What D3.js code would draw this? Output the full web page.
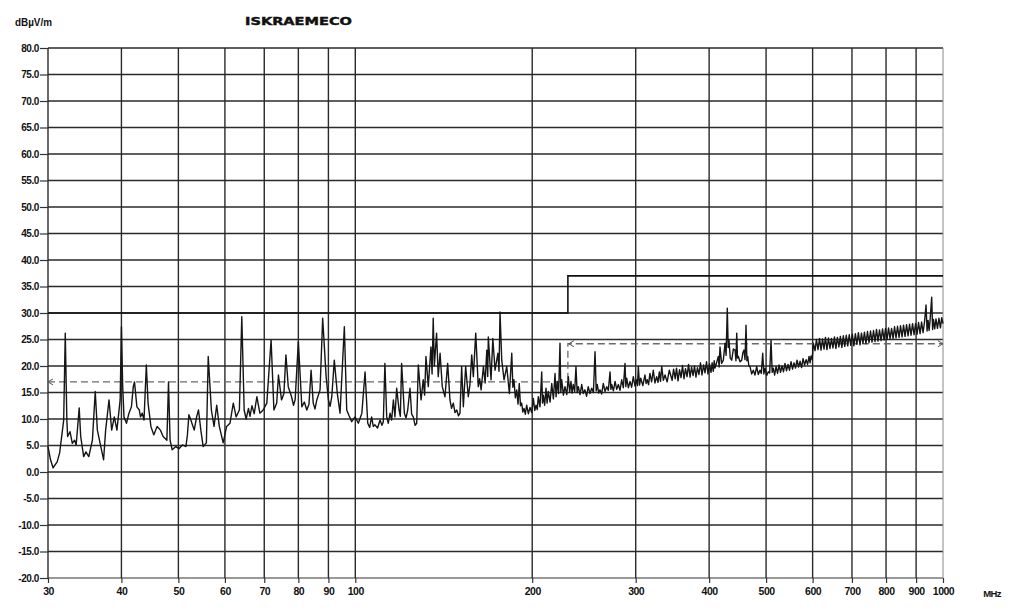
<!DOCTYPE html>
<html>
<head>
<meta charset="utf-8">
<script src="https://cdn.jsdelivr.net/npm/d3@7"></script>
<style>
body { margin: 0; background: #fff; }
svg text { font-family: "Liberation Sans", Arial, sans-serif; fill: #111; }
</style>
</head>
<body>
<svg id="chart" width="1024" height="615"></svg>
<script>
// tick labels
const yTicks = [80, 75, 70, 65, 60, 55, 50, 45, 40, 35, 30, 25, 20, 15, 10, 5, 0, -5, -10, -15, -20];
const xTicks = [30, 40, 50, 60, 70, 80, 90, 100, 200, 300, 400, 500, 600, 700, 800, 900, 1000];

// limit line (dBuV/m) and dashed reference line
const limitFreq = [30, 230, 230, 1000];
const limitLevel = [30, 30, 37, 37];
const refLowFreq = [30, 230];
const refLowLevel = [17, 17];
const refHighFreq = [230, 230, 1000];
const refHighLevel = [17.4, 24.2, 24.2];

const trace = [
  [30.0,4.8],[30.3,2.3],[30.6,0.8],[31.1,1.9],[31.4,3.6],[31.7,7.3],[31.9,9.8],[32.1,26.2],[32.3,9.8],[32.4,6.7],
  [32.7,7.6],[33.0,5.4],[33.3,6.0],[33.5,5.1],[33.9,12.1],[34.1,6.7],[34.5,2.9],[34.8,3.8],[35.2,2.9],[35.7,6.0],
  [36.1,15.2],[36.4,7.9],[36.9,4.8],[37.3,2.3],[37.6,7.9],[38.1,13.6],[38.5,7.9],[38.9,10.4],[39.3,7.9],[39.8,13.6],
  [40.0,27.4],[40.2,16.1],[40.4,10.4],[40.8,9.2],[41.2,11.1],[41.6,12.3],[41.9,16.1],[42.1,17.0],[42.5,12.3],[42.9,11.7],
  [43.1,10.4],[43.4,11.1],[43.7,9.8],[44.1,20.2],[44.4,13.0],[44.9,8.6],[45.4,7.0],[46.0,8.6],[46.6,7.9],[47.1,6.7],
  [47.8,6.0],[48.1,17.0],[48.4,6.0],[48.8,4.2],[49.5,4.8],[50.1,4.4],[50.8,5.1],[51.5,4.8],[51.8,7.0],[52.1,10.8],
  [52.5,9.8],[53.2,7.9],[53.7,10.4],[54.1,11.7],[54.6,7.9],[55.1,4.8],[55.8,5.5],[56.2,21.8],[56.9,11.7],[57.5,8.6],
  [58.1,12.6],[58.7,8.6],[59.6,5.5],[60.4,8.6],[61.2,9.2],[62.0,13.0],[62.7,10.4],[63.5,11.7],[64.1,29.3],[64.7,11.7],
  [65.2,10.0],[65.8,12.0],[66.2,10.5],[66.7,12.5],[67.3,11.0],[68.0,14.2],[68.8,11.1],[69.7,11.7],[70.7,13.0],[71.9,24.9],
  [72.7,11.7],[73.5,13.0],[74.0,18.3],[74.9,13.6],[75.6,14.8],[76.2,22.1],[76.9,16.1],[77.9,14.2],[78.5,12.6],[79.0,13.6],
  [80.0,24.6],[81.1,12.3],[81.9,13.2],[82.7,11.7],[83.4,12.8],[84.1,19.2],[84.8,13.0],[85.4,11.9],[86.0,13.6],[87.1,15.5],
  [88.0,29.0],[89.2,18.0],[90.0,13.6],[90.6,12.4],[91.2,14.2],[92.1,21.1],[93.2,14.8],[94.2,11.1],[95.8,27.4],[96.7,11.7],
  [97.6,10.6],[98.6,9.5],[99.9,10.4],
  [101.2,9.2],[102.6,11.1],[103.9,18.9],[105.0,9.2],[105.8,8.4],[106.6,10.4],[107.3,8.6],[108.0,8.9],[109.1,8.3],[110.2,9.8],
  [111.0,8.8],[111.6,9.5],[112.3,20.5],[113.1,10.4],[113.8,9.2],[114.6,11.1],[115.3,9.8],[116.1,13.6],[116.8,10.4],[117.6,15.8],
  [118.7,11.7],[119.3,10.5],[119.9,20.5],[121.2,11.1],[122.0,10.2],[122.8,11.7],[123.9,15.8],[124.7,10.9],[125.5,10.4],[126.4,8.8],
  [127.2,9.2],[128.0,20.2],[129.4,13.6],[130.5,17.4],[131.2,14.5],[131.9,21.8],[133.1,16.1],[134.5,23.6],[135.1,18.5],[135.7,29.0],
  [136.3,20.0],[137.5,26.2],[138.4,18.0],[139.4,22.4],[140.6,16.1],[142.1,14.2],[143.6,20.5],[144.9,13.6],[145.8,12.0],[146.8,13.0],
  [147.8,11.2],[148.8,11.7],[149.8,10.6],[150.7,11.1],[151.7,19.9],[152.7,12.3],[154.1,19.9],[155.7,14.2],[156.7,16.5],[157.8,22.1],
  [158.8,18.0],[160.3,26.2],[161.9,16.1],[162.8,17.6],[163.7,15.5],[165.2,19.9],[166.3,16.8],[167.4,23.0],[168.0,18.0],[168.4,25.5],
  [170.2,17.4],[171.4,25.2],[172.9,19.2],[174.8,22.4],[175.6,19.0],[176.3,30.2],[177.5,21.1],[179.1,17.4],[181.0,19.9],[182.9,14.8],
  [184.6,22.4],[185.4,16.0],
  [186.2,17.4],[187.2,14.0],[188.2,15.5],[189.2,12.8],[190.1,16.7],[191.0,12.5],[191.9,13.0],[192.8,11.3],[193.7,12.0],[194.7,10.9],
  [195.7,12.6],[197.0,11.0],[198.3,12.2],[199.6,11.2],[200.9,13.9],[202.0,11.6],[203.0,12.6],[204.0,11.8],[204.8,14.2],[206.2,12.3],
  [207.6,18.9],[208.2,13.0],[208.9,14.5],[210.0,12.6],[211.1,15.8],[212.0,13.0],[213.0,15.2],[214.5,13.2],[215.9,16.7],[217.3,13.8],
  [218.7,18.6],[219.6,14.2],[220.6,17.1],[221.8,14.8],[223.0,24.3],[223.7,15.0],[224.5,17.4],[226.0,14.5],[227.4,16.1],[229.0,14.6],
  [230.4,18.0],[231.6,15.0],[232.8,17.1],[233.8,14.9],[234.9,16.5],[236.2,15.2],[237.4,19.9],[238.5,15.0],[239.6,16.1],[241.2,14.6],
  [242.8,16.5],[244.3,14.8],[245.9,15.5],[247.5,14.3],[249.1,16.1],[250.8,14.8],[252.5,15.8],[254.2,15.0],[255.8,22.7],[257.0,15.3],
  [258.1,16.5],[259.5,14.9],[260.8,15.5],[262.5,14.7],[264.2,16.7],[266.0,15.2],[267.8,16.1],[269.5,15.4],[271.3,18.9],[272.2,15.6],
  [273.1,16.5],[274.9,15.3],[276.7,17.1],[278.5,15.6],[280.3,16.5],[282.1,15.4],[284.0,17.4],[285.8,15.9],[287.7,20.5],[288.6,16.1],
  [289.6,17.7],[291.5,15.9],[293.4,17.1],[295.3,16.0],[297.2,18.0],[299.2,16.2],[301.2,17.4],[302.1,16.3],[303.1,19.9],[304.5,16.4],
  [306.0,17.7],[308.5,16.3],[311.1,18.3],[312.5,16.7],[313.9,17.4],[315.5,16.5],[317.2,18.6],[319.3,17.0],[321.4,19.2],[323.5,16.8],
  [325.7,18.0],[327.4,16.9],[329.1,18.9],[330.6,17.1],[332.2,19.9],[334.3,17.3],[336.5,18.3],[339.3,17.0],[342.2,19.2],
  [346.0,17.3],[348.0,19.4],[350.2,17.6],[352.0,19.6],[354.1,17.2],[356.2,19.3],[358.3,17.8],[360.4,20.1],[362.5,17.6],[364.6,19.5],
  [366.8,18.0],[369.0,20.3],[371.2,17.9],[373.4,19.8],[375.6,18.2],[377.7,20.0],[379.9,17.9],[382.1,19.7],[384.4,18.4],[386.7,20.6],
  [389.0,18.3],[391.3,20.2],[393.6,18.7],[395.9,20.8],[398.2,18.5],[400.5,20.4],[402.9,18.8],[404.7,20.6],[406.6,19.0],[408.0,21.0],
  [409.4,19.6],[414.7,21.8],[416.0,19.8],[417.4,23.6],[420.0,20.5],[422.9,21.1],[425.7,24.3],[427.5,22.0],[429.5,30.9],[431.0,23.5],
  [432.4,24.9],[434.5,21.5],[437.0,21.1],[439.8,23.2],[442.8,23.0],[444.3,21.0],[445.7,26.2],[447.0,21.5],[448.5,21.8],[451.5,20.8],
  [454.5,21.1],[456.5,22.5],[458.6,23.0],[460.4,21.2],[462.2,27.7],[463.8,21.0],[465.3,21.8],[467.4,20.0],[469.5,19.9],[472.5,18.5],
  [475.6,19.2],[478.7,18.3],[481.9,19.9],[485.0,18.4],[488.1,19.2],[490.8,18.6],[493.4,22.4],[495.7,18.5],[498.0,19.6],[501.2,18.2],
  [504.4,18.9],[507.1,18.7],[509.8,24.9],[512.1,18.8],[514.4,19.6],[517.1,18.3],[519.9,19.9],[523.0,18.6],[526.0,20.2],[529.1,18.8],
  [532.2,20.0],[535.3,18.9],[538.5,20.5],[541.7,19.1],[544.9,20.3],[548.1,19.2],[551.3,20.8],[554.6,19.4],[557.9,20.6],[561.2,19.6],
  [564.5,21.1],[567.8,19.8],[571.2,20.9],[574.6,19.7],[578.0,21.4],[581.4,20.2],[584.9,21.2],[588.3,20.3],[591.7,21.8],[594.0,20.6],
  [596.4,21.9],[599.0,21.2],[601.7,24.3],
  [605.7,22.9],[609.0,25.0],[612.8,23.1],[616.5,25.2],[620.1,23.0],[623.7,25.1],[627.4,23.2],[631.0,25.4],[634.7,23.1],[638.4,25.3],
  [642.2,23.3],[646.0,25.2],[649.7,23.4],[653.5,25.5],[657.3,23.3],[661.1,25.4],[665.0,23.6],[668.9,25.6],[672.8,23.5],[676.7,25.7],
  [680.6,23.7],[684.6,25.8],[688.6,23.8],[692.6,25.9],[696.6,23.9],[701.0,26.0],[705.3,23.8],[709.4,26.1],[713.5,24.1],[717.9,26.3],
  [722.3,24.0],[726.5,26.2],[730.8,24.3],[735.1,26.4],[739.4,24.2],[743.9,26.5],[748.4,24.4],[752.8,26.6],[757.2,24.5],[761.7,26.7],
  [766.2,24.6],[770.7,26.9],[775.2,24.7],[779.8,26.8],[784.5,24.8],[789.1,27.0],[793.8,24.9],[798.4,27.1],[803.1,25.0],[807.9,27.2],
  [812.7,25.1],[817.5,27.1],[822.3,25.2],[827.1,27.4],[831.9,25.3],[836.8,27.5],[841.8,25.4],[846.7,27.6],[851.7,25.5],[856.8,27.7],
  [861.9,25.6],[867.0,27.8],[872.1,25.7],[877.2,27.9],[882.3,25.8],[887.5,28.0],[892.8,25.9],[898.0,28.0],[903.3,26.0],[908.7,28.2],
  [914.1,26.1],[919.5,28.3],[924.9,26.3],[930.3,28.4],[935.7,31.5],[939.5,26.6],[943.2,28.6],[947.0,26.7],[950.4,28.5],[956.7,33.0],
  [960.0,26.9],[963.3,28.8],[968.0,27.0],[972.9,28.9],[978.5,27.1],[984.3,29.0],[990.0,27.2],[995.0,29.1],[1000.0,28.0]
];

const svg = d3.select('#chart');
const plot = { left: 48, right: 943, top: 48, bottom: 578 };

const x = d3.scaleLog().domain([30, 1000]).range([plot.left, plot.right]);
const y = d3.scaleLinear().domain([-20, 80]).range([plot.bottom, plot.top]);

// grid
const grid = svg.append('g');
grid.selectAll('line.h')
    .data(yTicks)
    .enter().append('line')
    .attr('x1', plot.left).attr('x2', plot.right)
    .attr('y1', d => y(d)).attr('y2', d => y(d))
    .attr('stroke', d => d == -20 ? '#777' : '#2a2a2a')
    .attr('stroke-width', 1.4);
grid.selectAll('line.v')
    .data(xTicks)
    .enter().append('line')
    .attr('x1', d => x(d)).attr('x2', d => x(d))
    .attr('y1', plot.top).attr('y2', plot.bottom)
    .attr('stroke', d => d == 1000 ? '#888' : '#2a2a2a')
    .attr('stroke-width', d => d == 1000 ? 1 : 1.4);

// Y axis
const yAxis = svg.append('g')
    .attr('transform', 'translate(' + plot.left + ',0)')
    .call(d3.axisLeft(y).tickValues(yTicks).tickSize(8).tickPadding(1).tickFormat(d => d.toFixed(1)));
yAxis.select('.domain').remove();
yAxis.selectAll('line').attr('stroke', '#333').attr('stroke-width', 1.2);
yAxis.selectAll('text')
    .style('font-size', '10px').style('font-weight', 'bold')
    .attr('letter-spacing', '-0.4');

// X axis
const xAxis = svg.append('g')
    .attr('transform', 'translate(0,' + plot.bottom + ')')
    .call(d3.axisBottom(x).tickValues(xTicks).tickSize(5).tickPadding(5).tickFormat(d => d));
xAxis.select('.domain').remove();
xAxis.selectAll('line').attr('stroke', '#333').attr('stroke-width', 1.2);
xAxis.selectAll('text')
    .style('font-size', '10.5px').style('font-weight', 'bold')
    .attr('letter-spacing', '-0.5');

svg.append('text')
    .attr('x', 992).attr('y', 597)
    .attr('text-anchor', 'middle')
    .style('font-size', '9.5px').style('font-weight', 'bold')
    .attr('letter-spacing', '-0.6')
    .text('MHz');

// titles
svg.append('text')
    .attr('x', 15).attr('y', 26)
    .attr('textLength', 37).attr('lengthAdjust', 'spacingAndGlyphs')
    .style('font-size', '10px').style('font-weight', 'bold')
    .text('dBµV/m');

svg.append('text')
    .attr('x', 245).attr('y', 25)
    .attr('textLength', 107).attr('lengthAdjust', 'spacingAndGlyphs')
    .style('font-family', '"DejaVu Sans", sans-serif')
    .style('font-size', '10px').style('font-weight', 'bold')
    .attr('stroke', '#111').attr('stroke-width', 0.4)
    .text('ISKRAEMECO');

// dashed reference line with arrow ends
const defs = svg.append('defs');
defs.append('marker')
    .attr('id', 'chev')
    .attr('viewBox', '-6 -4 8 8')
    .attr('markerWidth', 8).attr('markerHeight', 8)
    .attr('markerUnits', 'userSpaceOnUse')
    .attr('orient', 'auto-start-reverse')
    .append('path')
    .attr('d', 'M-5,-3 L0,0 L-5,3')
    .attr('fill', 'none').attr('stroke', '#555').attr('stroke-width', 1);

const line = d3.line().x(d => x(d[0])).y(d => y(d[1]));
const zip = (fs, ls) => fs.map((f, i) => [f, ls[i]]);

svg.append('path')
    .datum(zip(refLowFreq, refLowLevel))
    .attr('d', line)
    .attr('fill', 'none').attr('stroke', '#6a6a6a').attr('stroke-width', 1.3)
    .attr('stroke-dasharray', '7,4')
    .attr('marker-start', 'url(#chev)');

svg.append('path')
    .datum(zip(refHighFreq, refHighLevel))
    .attr('d', line)
    .attr('fill', 'none').attr('stroke', '#6a6a6a').attr('stroke-width', 1.3)
    .attr('stroke-dasharray', '7,4')
    .attr('marker-end', 'url(#chev)');

// left-pointing arrow at the step of the upper dashed line
svg.append('path')
    .attr('d', 'M' + (x(230) + 6) + ',' + (y(24.2) - 3) + ' L' + (x(230) + 1) + ',' + y(24.2) + ' L' + (x(230) + 6) + ',' + (y(24.2) + 3))
    .attr('fill', 'none').attr('stroke', '#555').attr('stroke-width', 1);

// limit line
svg.append('path')
    .datum(zip(limitFreq, limitLevel))
    .attr('d', line)
    .attr('fill', 'none').attr('stroke', '#111').attr('stroke-width', 1.6);

// measured trace
svg.append('path')
    .datum(trace)
    .attr('d', line)
    .attr('fill', 'none').attr('stroke', '#151515').attr('stroke-width', 1.4)
    .attr('stroke-linejoin', 'round');
</script>
</body>
</html>
